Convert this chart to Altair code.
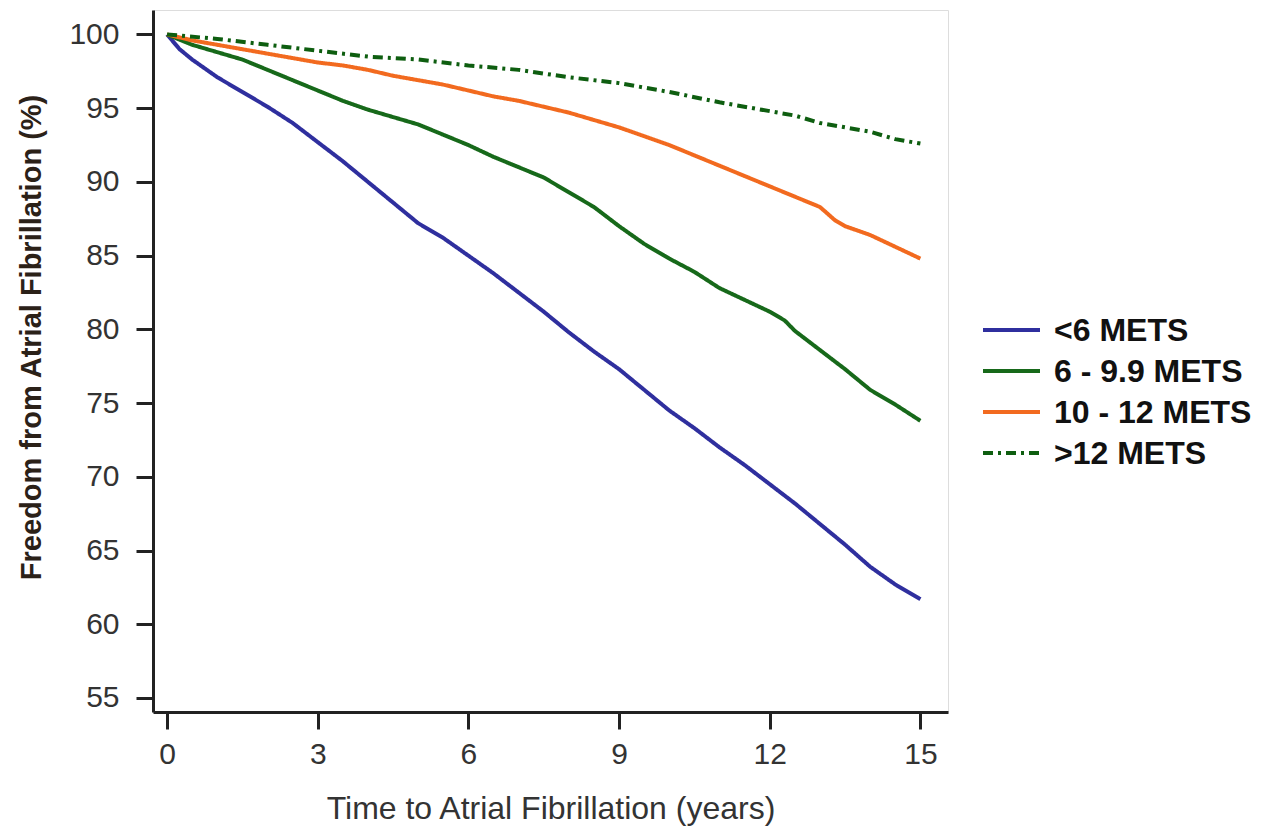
import altair as alt
import pandas as pd

series_names = ["<6 METS", "6 - 9.9 METS", "10 - 12 METS", ">12 METS"]
series_colors = ["#2f2f9e", "#17691a", "#f26a1f", "#0e5e10"]
series_dash = [[1, 0], [1, 0], [1, 0], [10, 5, 3, 5]]

t_lt6 = [0, 0.25, 0.5, 1, 1.5, 2, 2.5, 3, 3.5, 4, 4.5, 5, 5.5, 6, 6.5, 7, 7.5, 8, 8.5, 9,
         9.5, 10, 10.5, 11, 11.5, 12, 12.5, 13, 13.5, 14, 14.5, 15]
v_lt6 = [100, 99.0, 98.3, 97.1, 96.1, 95.1, 94.0, 92.7, 91.4, 90.0, 88.6, 87.2, 86.2, 85.0,
         83.8, 82.5, 81.2, 79.8, 78.5, 77.3, 75.9, 74.5, 73.3, 72.0, 70.8, 69.5, 68.2, 66.8,
         65.4, 63.9, 62.7, 61.7]

t_6_99 = [0, 0.5, 1, 1.5, 2, 2.5, 3, 3.5, 4, 4.5, 5, 5.5, 6, 6.5, 7, 7.5, 8, 8.5, 9, 9.5,
          10, 10.5, 11, 11.5, 12, 12.3, 12.5, 13, 13.5, 14, 14.5, 15]
v_6_99 = [100, 99.3, 98.8, 98.3, 97.6, 96.9, 96.2, 95.5, 94.9, 94.4, 93.9, 93.2, 92.5, 91.7,
          91.0, 90.3, 89.3, 88.3, 87.0, 85.8, 84.8, 83.9, 82.8, 82.0, 81.2, 80.6, 79.9, 78.6,
          77.3, 75.9, 74.9, 73.8]

t_10_12 = [0, 0.5, 1, 1.5, 2, 2.5, 3, 3.5, 4, 4.5, 5, 5.5, 6, 6.5, 7, 7.5, 8, 8.5, 9, 9.5,
           10, 10.5, 11, 11.5, 12, 12.5, 13, 13.3, 13.5, 14, 14.5, 15]
v_10_12 = [100, 99.6, 99.3, 99.0, 98.7, 98.4, 98.1, 97.9, 97.6, 97.2, 96.9, 96.6, 96.2, 95.8,
           95.5, 95.1, 94.7, 94.2, 93.7, 93.1, 92.5, 91.8, 91.1, 90.4, 89.7, 89.0, 88.3, 87.4,
           87.0, 86.4, 85.6, 84.8]

t_gt12 = [0, 1, 2, 3, 4, 5, 6, 7, 8, 9, 10, 11, 12, 12.5, 13, 13.5, 14, 14.5, 15]
v_gt12 = [100, 99.7, 99.3, 98.9, 98.5, 98.3, 97.9, 97.6, 97.1, 96.7, 96.1, 95.4, 94.8, 94.5,
          94.0, 93.7, 93.4, 92.9, 92.6]

x_ticks = [0, 3, 6, 9, 12, 15]
y_ticks = [55, 60, 65, 70, 75, 80, 85, 90, 95, 100]

frames = []
for name, ts, vs in zip(series_names, [t_lt6, t_6_99, t_10_12, t_gt12],
                        [v_lt6, v_6_99, v_10_12, v_gt12]):
    frames.append(pd.DataFrame({"series": name, "t": ts, "v": vs}))
df = pd.concat(frames, ignore_index=True)
legend_df = pd.DataFrame({"series": series_names})

axis_common = dict(
    domainColor="#222222", domainWidth=3, tickColor="#222222", tickWidth=3, tickSize=17,
    labelFont="Liberation Sans", labelFontSize=30, labelColor="#333333",
    grid=False,
)

color_enc = alt.Color("series:N", scale=alt.Scale(domain=series_names, range=series_colors),
                      legend=None)
dash_enc = alt.StrokeDash("series:N", scale=alt.Scale(domain=series_names, range=series_dash),
                          legend=None)

lines = alt.Chart(df).mark_line(strokeWidth=4, interpolate="linear", clip=True).encode(
    x=alt.X("t:Q", scale=alt.Scale(domain=[-0.28, 15.55], nice=False, zero=False),
            axis=alt.Axis(values=x_ticks, title="Time to Atrial Fibrillation (years)",
                          titleFont="Liberation Sans", titleFontSize=32,
                          titleFontWeight="normal", titleColor="#333333",
                          titlePadding=24, labelPadding=10, **axis_common)),
    y=alt.Y("v:Q", scale=alt.Scale(domain=[54.05, 101.66], nice=False, zero=False),
            axis=alt.Axis(values=y_ticks, title="Freedom from Atrial Fibrillation (%)",
                          titleFont="Liberation Sans", titleFontSize=29,
                          titleFontWeight="bold", titleColor="#2b2118",
                          titlePadding=22, labelPadding=17, titleY=327, **axis_common)),
    color=color_enc,
    strokeDash=dash_enc,
    order=alt.Order("t:Q"),
)

legend_y = alt.Y("series:N", scale=alt.Scale(type="point", domain=series_names,
                                               range=[320, 443], padding=0), axis=None)

legend_rules = alt.Chart(legend_df).mark_rule(strokeWidth=4).encode(
    x=alt.value(830), x2=alt.value(887), y=legend_y,
    color=color_enc, strokeDash=dash_enc,
)

legend_text = alt.Chart(legend_df).mark_text(
    align="left", baseline="middle", font="Liberation Sans", fontSize=32,
    fontWeight="bold", color="#111111", dy=1,
).encode(x=alt.value(901), y=legend_y, text="series:N")

chart = alt.layer(lines, legend_rules, legend_text).resolve_scale(
    y="independent"
).properties(
    width=795, height=702,
    autosize=alt.AutoSizeParams(type="none"),
    padding={"left": 153, "top": 10, "right": 332, "bottom": 120},
).configure_view(stroke=None).configure(background="white")

chart.save("out.html", embed_options={"renderer": "svg", "actions": False})
